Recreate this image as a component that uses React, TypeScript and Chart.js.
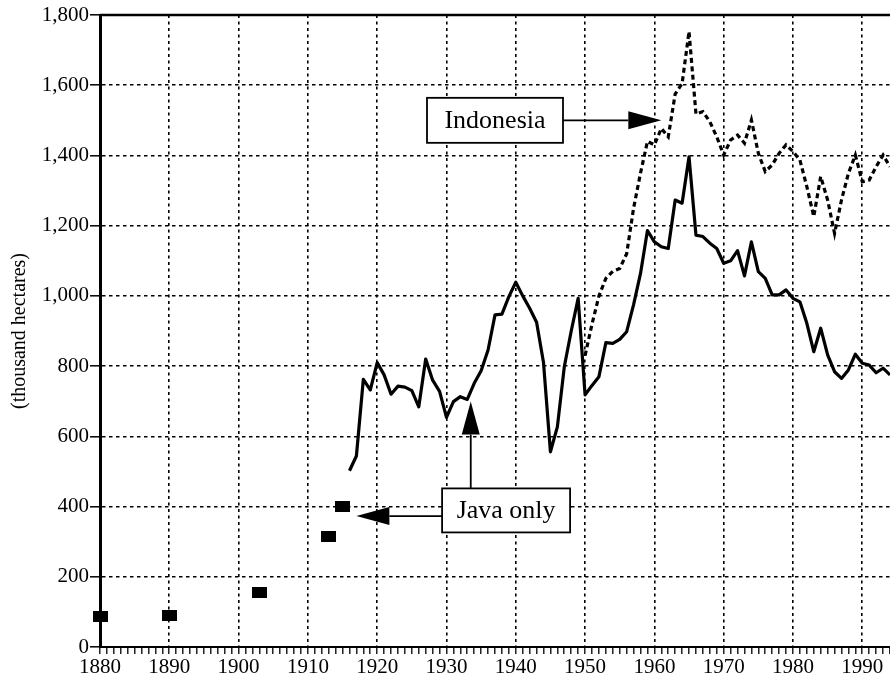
import React, { useEffect, useRef } from 'react';
import { Chart, registerables } from 'chart.js';

Chart.register(...registerables);

// ---- data ----
const squareYears = [1880, 1890, 1903, 1913, 1915];
const squareValues = [86, 91, 155, 316, 400];

const javaStartYear = 1916;
const javaValues = [
  502, 544, 762, 732, 810, 775, 720, 743, 740, 730, // 1916-1925
  684, 820, 760, 728, 654, 699, 713, 705, 751, 787, // 1926-1935
  846, 946, 948, 998, 1039, 1000, 965, 925, 810, 556, // 1936-1945
  627, 798, 900, 993, 718, 745, 770, 867, 865, 876, // 1946-1955
  898, 975, 1064, 1186, 1154, 1140, 1135, 1273, 1264, 1396, // 1956-1965
  1173, 1169, 1150, 1135, 1093, 1100, 1129, 1057, 1154, 1069, // 1966-1975
  1050, 1003, 1003, 1017, 993, 983, 922, 841, 908, 832, // 1976-1985
  784, 765, 789, 834, 808, 803, 781, 794, 775, // 1986-1994
];

const indoStartYear = 1950;
const indoValues = [
  830, 920, 1000, 1050, 1070, 1078, 1120, 1250, 1350, 1440, // 1950-1959
  1430, 1477, 1453, 1575, 1605, 1753, 1518, 1525, 1496, 1453, // 1960-1969
  1401, 1444, 1458, 1435, 1501, 1406, 1354, 1373, 1406, 1430, // 1970-1979
  1411, 1387, 1311, 1226, 1340, 1273, 1178, 1273, 1349, 1401, // 1980-1989
  1325, 1330, 1368, 1401, 1368, // 1990-1994
];

const xMin = 1880;
const xMax = 1994;
const yMin = 0;
const yMax = 1800;
const yStep = 200;
const decadeStep = 10;
const yTitle = '(thousand hectares)';

const indoNote = { text: 'Indonesia', boxAt: [1937, 1500], tipAt: [1961, 1500] };
const javaNote = { text: 'Java only', boxAt: [1938.6, 389], upTip: [1933.5, 699], leftTip: [1917, 373] };

const SERIF = "'Liberation Serif', 'DejaVu Serif', serif";

function makeSquare(): HTMLCanvasElement {
  const c = document.createElement('canvas');
  c.width = 15;
  c.height = 11;
  const g = c.getContext('2d')!;
  g.fillStyle = '#000';
  g.fillRect(0, 0, 15, 11);
  return c;
}

function drawArrow(ctx: CanvasRenderingContext2D, x1: number, y1: number, x2: number, y2: number) {
  const headLen = 33;
  const halfW = 9;
  const ang = Math.atan2(y2 - y1, x2 - x1);
  const bx = x2 - headLen * Math.cos(ang);
  const by = y2 - headLen * Math.sin(ang);
  ctx.beginPath();
  ctx.moveTo(x1, y1);
  ctx.lineTo(bx, by);
  ctx.lineWidth = 1.8;
  ctx.strokeStyle = '#000';
  ctx.stroke();
  ctx.beginPath();
  ctx.moveTo(x2, y2);
  ctx.lineTo(bx + halfW * Math.sin(ang), by - halfW * Math.cos(ang));
  ctx.lineTo(bx - halfW * Math.sin(ang), by + halfW * Math.cos(ang));
  ctx.closePath();
  ctx.fillStyle = '#000';
  ctx.fill();
}

function drawBox(ctx: CanvasRenderingContext2D, cx: number, cy: number, w: number, h: number, text: string) {
  ctx.fillStyle = '#fff';
  ctx.fillRect(cx - w / 2, cy - h / 2, w, h);
  ctx.lineWidth = 1.8;
  ctx.strokeStyle = '#000';
  ctx.strokeRect(cx - w / 2, cy - h / 2, w, h);
  ctx.fillStyle = '#000';
  ctx.font = `26px ${SERIF}`;
  ctx.textAlign = 'center';
  ctx.textBaseline = 'middle';
  ctx.fillText(text, cx, cy + 1);
}

const framePlugin = {
  id: 'frame',
  afterDraw(chart: any) {
    const { ctx, chartArea: a, scales } = chart;
    const x = scales.x;
    const y = scales.y;
    ctx.save();
    // top border
    ctx.strokeStyle = '#000';
    ctx.lineWidth = 2.5;
    ctx.beginPath();
    ctx.moveTo(a.left, a.top);
    ctx.lineTo(a.right, a.top);
    ctx.stroke();

    // Indonesia note
    const ibx = x.getPixelForValue(indoNote.boxAt[0]);
    const iby = y.getPixelForValue(indoNote.boxAt[1]);
    const iw = 136, ih = 45;
    drawArrow(ctx, ibx + iw / 2, iby, x.getPixelForValue(indoNote.tipAt[0]), y.getPixelForValue(indoNote.tipAt[1]));
    drawBox(ctx, ibx, iby, iw, ih, indoNote.text);

    // Java note
    const jbx = x.getPixelForValue(javaNote.boxAt[0]);
    const jby = y.getPixelForValue(javaNote.boxAt[1]);
    const jw = 128, jh = 44;
    const upX = x.getPixelForValue(javaNote.upTip[0]);
    drawArrow(ctx, upX, jby - jh / 2, upX, y.getPixelForValue(javaNote.upTip[1]));
    const leftY = y.getPixelForValue(javaNote.leftTip[1]);
    drawArrow(ctx, jbx - jw / 2, leftY, x.getPixelForValue(javaNote.leftTip[0]), leftY);
    drawBox(ctx, jbx, jby, jw, jh, javaNote.text);
    ctx.restore();
  },
};

export default function App() {
  const ref = useRef<HTMLCanvasElement>(null);

  useEffect(() => {
    if (!ref.current) return;
    const square = makeSquare();
    const javaPts = javaValues.map((v, i) => ({ x: javaStartYear + i, y: v }));
    const indoPts = indoValues.map((v, i) => ({ x: indoStartYear + i, y: v }));
    const sqPts = squareYears.map((yr, i) => ({ x: yr, y: squareValues[i] }));

    const chart = new Chart(ref.current, {
      type: 'line',
      data: {
        datasets: [
          {
            label: 'Java squares',
            data: sqPts,
            showLine: false,
            pointStyle: square as any,
            pointRadius: 6,
            borderColor: '#000',
            backgroundColor: '#000',
            clip: false as any,
          },
          {
            label: 'Java only',
            data: javaPts,
            borderColor: '#000',
            borderWidth: 3.2,
            pointRadius: 0,
            tension: 0,
            borderJoinStyle: 'round',
          },
          {
            label: 'Indonesia',
            data: indoPts,
            borderColor: '#000',
            borderWidth: 3.2,
            borderDash: [5, 3.5],
            pointRadius: 0,
            tension: 0,
          },
        ],
      },
      options: {
        animation: false,
        responsive: true,
        maintainAspectRatio: false,
        layout: { padding: { top: 15, left: 0, right: 0, bottom: 0 } },
        plugins: {
          legend: { display: false },
          tooltip: { enabled: false },
        },
        scales: {
          x: {
            type: 'linear',
            min: xMin,
            max: xMax,
            afterFit: (s: any) => { s.height = 32; s.paddingLeft = 0; s.paddingRight = 0; },
            ticks: {
              stepSize: 1,
              autoSkip: false,
              minRotation: 0,
              maxRotation: 0,
              padding: 1,
              color: '#000',
              font: { family: SERIF, size: 21 },
              callback: (v: any) => (Number(v) % decadeStep === 0 ? String(v) : ''),
            },
            grid: {
              color: (c: any) => (c.tick && c.tick.value % decadeStep === 0 ? '#000' : 'rgba(0,0,0,0)'),
              lineWidth: 1.6,
              tickColor: '#000',
              tickWidth: 1.3,
              tickLength: 7,
            },
            border: { display: true, color: '#000', width: 2, dash: [3, 3.5] },
          },
          y: {
            min: yMin,
            max: yMax,
            afterFit: (s: any) => { s.width = 100; },
            ticks: {
              stepSize: yStep,
              padding: 1,
              color: '#000',
              font: { family: SERIF, size: 21 },
              callback: (v: any) => Number(v).toLocaleString('en-US'),
            },
            grid: {
              color: '#000',
              lineWidth: 1.6,
              tickColor: '#000',
              tickWidth: 1.5,
              tickLength: 10,
            },
            border: { display: true, color: '#000', width: 3, dash: [3.5, 3.5] },
            title: {
              display: true,
              text: yTitle,
              color: '#000',
              font: { family: SERIF, size: 20 },
              padding: { top: 8, bottom: 0 },
            },
          },
        },
      },
      plugins: [framePlugin],
    });
    return () => chart.destroy();
  }, []);

  return (
    <div style={{ position: 'absolute', left: 0, top: 0, width: 890, height: 679, overflow: 'hidden', background: '#fff' }}>
      <div style={{ position: 'relative', width: 897, height: 679 }}>
        <canvas ref={ref} />
      </div>
    </div>
  );
}
